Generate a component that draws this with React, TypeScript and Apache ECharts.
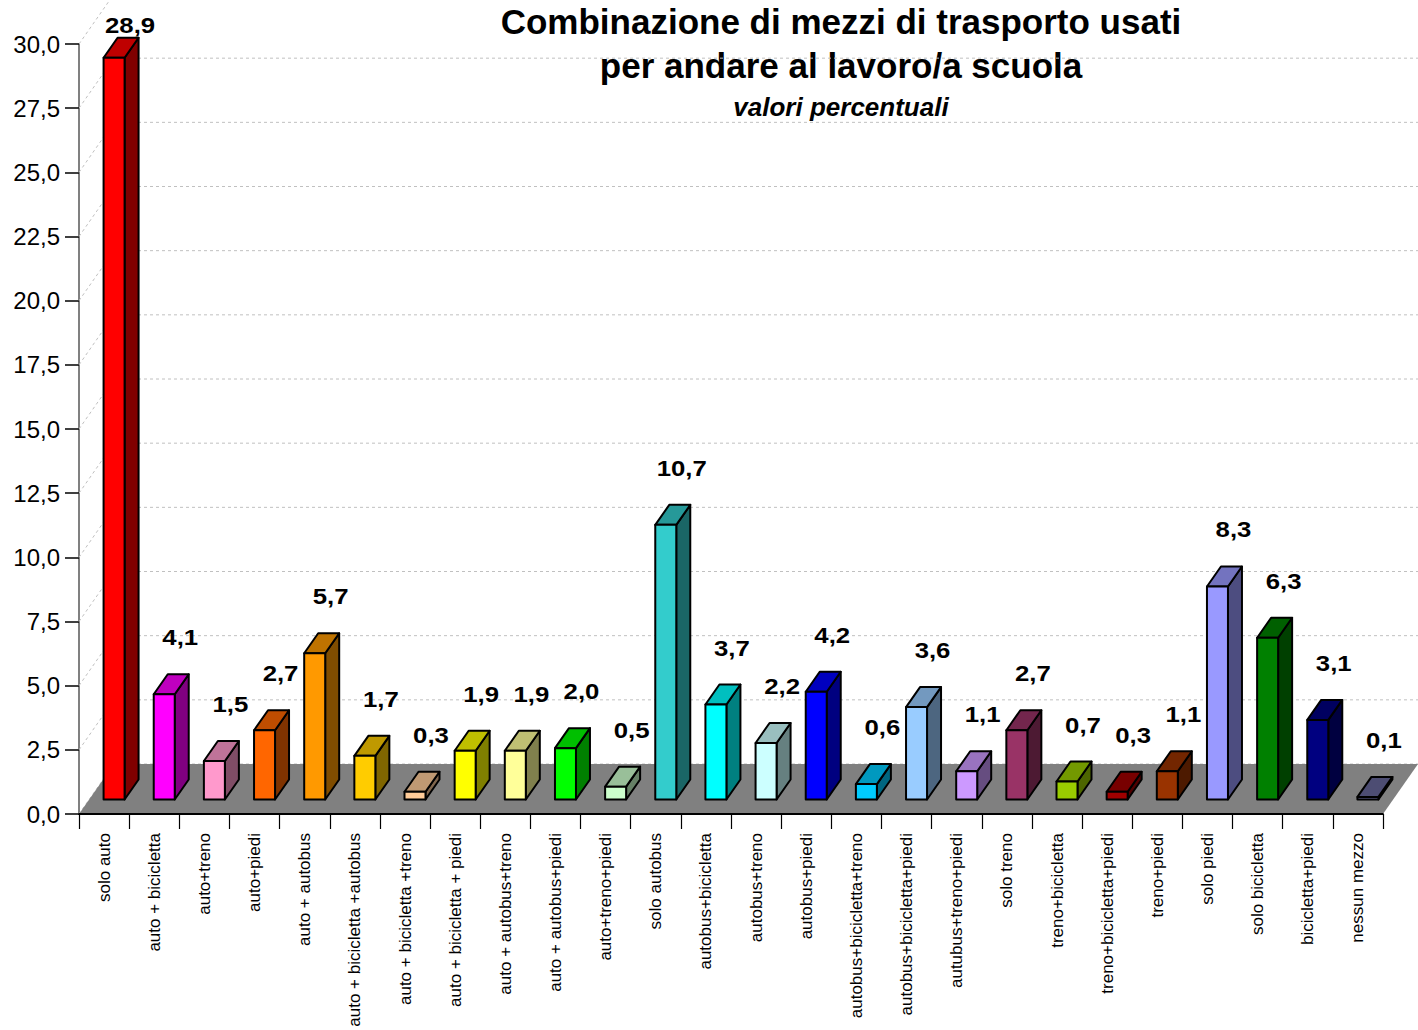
import React, { useEffect, useRef } from "react";
import * as echarts from "echarts";

// ---------- data ----------
const categories: string[] = [
  "solo auto",
  "auto + bicicletta",
  "auto+treno",
  "auto+piedi",
  "auto + autobus",
  "auto + bicicletta +autobus",
  "auto + bicicletta +treno",
  "auto + bicicletta + piedi",
  "auto + autobus+treno",
  "auto + autobus+piedi",
  "auto+treno+piedi",
  "solo autobus",
  "autobus+bicicletta",
  "autobus+treno",
  "autobus+piedi",
  "autobus+bicicletta+treno",
  "autobus+bicicletta+piedi",
  "autubus+treno+piedi",
  "solo treno",
  "treno+bicicletta",
  "treno+bicicletta+piedi",
  "treno+piedi",
  "solo piedi",
  "solo bicicletta",
  "bicicletta+piedi",
  "nessun mezzo",
];

const values: number[] = [
  28.9, 4.1, 1.5, 2.7, 5.7, 1.7, 0.3, 1.9, 1.9, 2.0, 0.5, 10.7, 3.7, 2.2, 4.2,
  0.6, 3.6, 1.1, 2.7, 0.7, 0.3, 1.1, 8.3, 6.3, 3.1, 0.1,
];

const barColors: string[] = [
  "#FF0000", "#FF00FF", "#FF99CC", "#FF6600", "#FF9900", "#FFCC00", "#FFCC99",
  "#FFFF00", "#FFFF99", "#00FF00", "#CCFFCC", "#33CCCC", "#00FFFF", "#CCFFFF",
  "#0000FF", "#00CCFF", "#99CCFF", "#CC99FF", "#993366", "#99CC00", "#A00000",
  "#993300", "#9999FF", "#008000", "#000080", "#666699",
];

const yTicks: number[] = [0, 2.5, 5, 7.5, 10, 12.5, 15, 17.5, 20, 22.5, 25, 27.5, 30];

const TITLE_1 = "Combinazione di mezzi di trasporto usati";
const TITLE_2 = "per andare al lavoro/a scuola";
const SUBTITLE = "valori percentuali";

// ---------- style constants ----------
const FONT = '"Liberation Sans", Arial, Helvetica, sans-serif';
const WALL = [35, -50]; // depth vector of the floor / back wall
const BAR_SHIFT = [10, -14.5]; // position of the bar front inside the floor depth
const BAR_W = 21;
const BAR_DEPTH = [14, -20];

function shade(hex: string, f: number): string {
  const n = parseInt(hex.slice(1), 16);
  const r = Math.round(((n >> 16) & 255) * f);
  const g = Math.round(((n >> 8) & 255) * f);
  const b = Math.round((n & 255) * f);
  return `rgb(${r},${g},${b})`;
}

const fmt = (v: number) => v.toFixed(1).replace(".", ",");

export default function App() {
  const ref = useRef<HTMLDivElement>(null);

  useEffect(() => {
    if (!ref.current) return;
    const chart = echarts.init(ref.current, null, { renderer: "svg" });

    const gridStyle = {
      stroke: "#c0c0c0",
      lineWidth: 1,
      lineDash: [3, 3],
      fill: null,
    };

    const option: any = {
      animation: false,
      backgroundColor: "#ffffff",
      grid: { left: 79, right: 35, top: 44, bottom: 216, containLabel: false },
      xAxis: {
        type: "category",
        data: categories,
        boundaryGap: true,
        axisLine: { show: true, lineStyle: { color: "#000", width: 2 } },
        axisTick: {
          show: true,
          length: 15,
          alignWithLabel: false,
          interval: 0,
          lineStyle: { color: "#000", width: 1.2 },
        },
        axisLabel: {
          rotate: 90,
          interval: 0,
          fontSize: 17,
          fontFamily: FONT,
          color: "#000",
          margin: 19,
        },
        splitLine: { show: false },
      },
      yAxis: {
        type: "value",
        min: 0,
        max: 30,
        interval: 2.5,
        axisLine: { show: true, lineStyle: { color: "#808080", width: 2 } },
        axisTick: { show: true, length: 14, lineStyle: { color: "#000", width: 1.5 } },
        axisLabel: {
          formatter: (v: number) => fmt(v),
          fontSize: 24,
          fontFamily: FONT,
          color: "#000",
          margin: 19,
        },
        splitLine: { show: false },
      },
      graphic: [
        {
          type: "text",
          x: 841,
          y: 21,
          style: {
            text: TITLE_1,
            font: `bold 35px ${FONT}`,
            fill: "#000",
            align: "center",
            verticalAlign: "middle",
          },
        },
        {
          type: "text",
          x: 841,
          y: 65,
          style: {
            text: TITLE_2,
            font: `bold 35px ${FONT}`,
            fill: "#000",
            align: "center",
            verticalAlign: "middle",
          },
        },
        {
          type: "text",
          x: 841,
          y: 107,
          style: {
            text: SUBTITLE,
            font: `italic bold 26px ${FONT}`,
            fill: "#000",
            align: "center",
            verticalAlign: "middle",
          },
        },
      ],
      series: [
        {
          type: "custom",
          name: "wall",
          coordinateSystem: "cartesian2d",
          silent: true,
          clip: false,
          z: 1,
          data: yTicks.map((v) => [0, v]),
          encode: { x: 0, y: 1 },
          renderItem: (params: any, api: any) => {
            const v = api.value(1);
            const p = api.coord([0, v]);
            const cs = params.coordSys;
            const x0 = cs.x;
            const x1 = cs.x + cs.width;
            const y = p[1];
            return {
              type: "group",
              children: [
                {
                  type: "line",
                  shape: { x1: x0, y1: y, x2: x0 + WALL[0], y2: y + WALL[1] },
                  style: gridStyle,
                },
                {
                  type: "line",
                  shape: {
                    x1: x0 + WALL[0],
                    y1: y + WALL[1],
                    x2: x1 + WALL[0],
                    y2: y + WALL[1],
                  },
                  style: gridStyle,
                },
              ],
            };
          },
        },
        {
          type: "custom",
          name: "floor",
          coordinateSystem: "cartesian2d",
          silent: true,
          clip: false,
          z: 2,
          data: [[0, 0]],
          encode: { x: 0, y: 1 },
          renderItem: (params: any, api: any) => {
            const cs = params.coordSys;
            const y0 = api.coord([0, 0])[1];
            const x0 = cs.x;
            const x1 = cs.x + cs.width;
            return {
              type: "group",
              children: [
                {
                  type: "polygon",
                  shape: {
                    points: [
                      [x0, y0],
                      [x1, y0],
                      [x1 + WALL[0], y0 + WALL[1]],
                      [x0 + WALL[0], y0 + WALL[1]],
                    ],
                  },
                  style: { fill: "#808080", stroke: null },
                },
                {
                  type: "line",
                  shape: { x1: x0, y1: y0, x2: x1, y2: y0 },
                  style: { stroke: "#000", lineWidth: 2 },
                },
              ],
            };
          },
        },
        {
          type: "custom",
          name: "valori",
          coordinateSystem: "cartesian2d",
          clip: false,
          z: 3,
          data: values.map((v, i) => [i, v]),
          encode: { x: 0, y: 1 },
          renderItem: (params: any, api: any) => {
            const i = api.value(0);
            const v = api.value(1);
            const base = api.coord([i, 0]);
            const topP = api.coord([i, v]);
            const h = base[1] - topP[1];
            const cx = base[0];
            const fx0 = cx - BAR_W / 2 + BAR_SHIFT[0];
            const fx1 = fx0 + BAR_W;
            const yb = base[1] + BAR_SHIFT[1];
            const yt = yb - h;
            const [dx, dy] = BAR_DEPTH;
            const color = barColors[params.dataIndex % barColors.length];
            const edge = { stroke: "#000", lineWidth: 2, lineJoin: "round" };
            return {
              type: "group",
              children: [
                {
                  type: "polygon",
                  shape: {
                    points: [
                      [fx1, yb],
                      [fx1, yt],
                      [fx1 + dx, yt + dy],
                      [fx1 + dx, yb + dy],
                    ],
                  },
                  style: { fill: shade(color, 0.5), ...edge },
                },
                {
                  type: "polygon",
                  shape: {
                    points: [
                      [fx0, yt],
                      [fx1, yt],
                      [fx1 + dx, yt + dy],
                      [fx0 + dx, yt + dy],
                    ],
                  },
                  style: { fill: shade(color, 0.75), ...edge },
                },
                {
                  type: "polygon",
                  shape: {
                    points: [
                      [fx0, yb],
                      [fx1, yb],
                      [fx1, yt],
                      [fx0, yt],
                    ],
                  },
                  style: { fill: color, ...edge },
                },
                {
                  type: "text",
                  x: fx0 + dx + BAR_W / 2 + 2,
                  y: Math.max(25, yt + dy - 37),
                  scaleX: 1.12,
                  style: {
                    text: fmt(v),
                    font: `bold 23px ${FONT}`,
                    fill: "#000",
                    align: "center",
                    verticalAlign: "middle",
                  },
                },
              ],
            };
          },
        },
      ],
    };

    chart.setOption(option);
    return () => {
      chart.dispose();
    };
  }, []);

  return (
    <div
      ref={ref}
      style={{
        position: "fixed",
        left: 0,
        top: 0,
        width: 1418,
        height: 1030,
        background: "#fff",
      }}
    />
  );
}
